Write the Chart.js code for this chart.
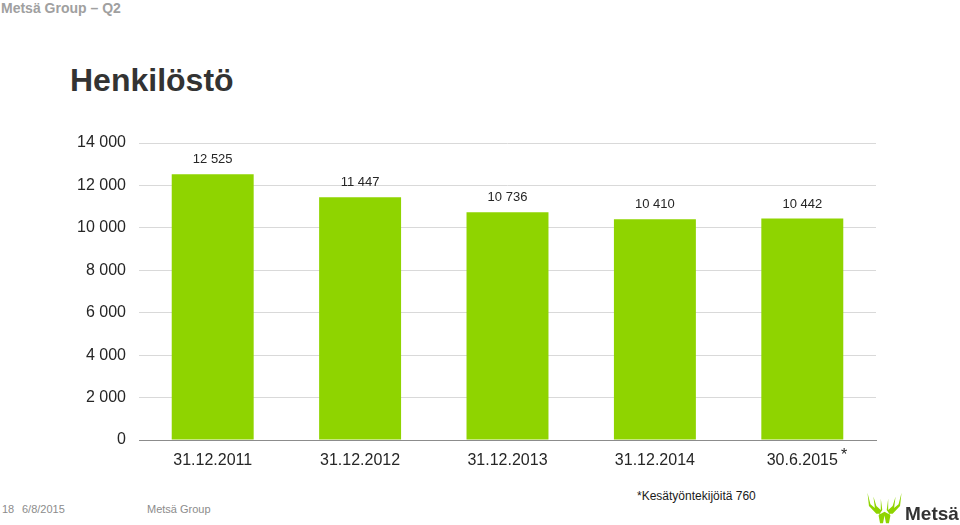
<!DOCTYPE html>
<html lang="fi">
  <head>
    <meta charset="UTF-8" />
    <title>Henkilöstö</title>
    <script src="https://cdn.jsdelivr.net/npm/chart.js"></script>
    <style>
      body {
        margin: 0;
        width: 960px;
        height: 525px;
        position: relative;
        overflow: hidden;
        background: #fff;
        font-family: "Liberation Sans", Arial, sans-serif;
      }
      .abs { position: absolute; white-space: nowrap; }
      .header { left: 1px; top: 0px; font-size: 14px; font-weight: bold; color: #a0a0a0; }
      .title { left: 70px; top: 62px; font-size: 32px; font-weight: bold; color: #333; }
      .foot { font-size: 11px; color: #8c8c8c; top: 503px; }
      .note { left: 637px; top: 489px; font-size: 12px; color: #1a1a1a; }
      .star { left: 841px; top: 446px; font-size: 16px; color: #262626; }
      #wrap { position: absolute; left: 0; top: 120px; width: 960px; height: 360px; }
    </style>
  </head>
  <body>
    <div class="abs header">Metsä Group – Q2</div>
    <div class="abs title">Henkilöstö</div>

    <div id="wrap"><canvas id="chart"></canvas></div>

    <div class="abs star">*</div>
    <div class="abs note">*Kesätyöntekijöitä 760</div>
    <div class="abs foot" style="left: 2px">18</div>
    <div class="abs foot" style="left: 22px">6/8/2015</div>
    <div class="abs foot" style="left: 147px">Metsä Group</div>

    <!-- logo -->
    <svg class="abs" style="left: 866px; top: 488px" width="94" height="37">
      <g transform="translate(0,1) scale(0.74,0.95)">
        <path d="M2 4 L6 16 L12 20 L10 8 L14 18 L20 22 L20 10 L22 22 L17 28 L19 36 L23 36 L25 28 L27 36 L31 36 L33 28 L28 22 L30 10 L30 22 L36 18 L40 8 L38 20 L44 16 L48 4 L46 18 L36 26 L30 26 L25 24 L20 26 L14 26 L4 18 Z" fill="#8fd400" />
      </g>
      <text x="39" y="32" font-family="Liberation Sans, Arial" font-weight="bold" font-size="19" fill="#333">Metsä</text>
    </svg>

    <script>
      const categories = ["31.12.2011", "31.12.2012", "31.12.2013", "31.12.2014", "30.6.2015"];
      const employees = [12525, 11447, 10736, 10410, 10442];
      const yTicks = [0, 2000, 4000, 6000, 8000, 10000, 12000, 14000];

      const fmt = (v) => String(v).replace(/\B(?=(\d{3})+(?!\d))/g, " ");

      // value labels above the bars
      const barLabels = {
        id: "barLabels",
        afterDatasetsDraw(chart) {
          const ctx = chart.ctx;
          const meta = chart.getDatasetMeta(0);
          ctx.save();
          ctx.font = "13px 'Liberation Sans', Arial, sans-serif";
          ctx.fillStyle = "#262626";
          ctx.textAlign = "center";
          ctx.textBaseline = "bottom";
          meta.data.forEach((bar, i) => {
            ctx.fillText(fmt(employees[i]), bar.x, bar.y - 8);
          });
          ctx.restore();
        },
      };

      new Chart(document.getElementById("chart"), {
        type: "bar",
        data: {
          labels: categories,
          datasets: [
            {
              data: employees,
              backgroundColor: "#8fd400",
              categoryPercentage: 1,
              barPercentage: 0.556,
            },
          ],
        },
        options: {
          responsive: true,
          maintainAspectRatio: false,
          animation: false,
          layout: { padding: { top: 23, right: 84, left: 0, bottom: 0 } },
          plugins: { legend: { display: false }, tooltip: { enabled: false } },
          scales: {
            x: {
              grid: { display: false, drawTicks: false },
              border: { color: "#8c8c8c", width: 1 },
              ticks: {
                color: "#262626",
                font: { family: "'Liberation Sans', Arial", size: 16 },
                padding: 11,
                maxRotation: 0,
              },
              afterFit(scale) { scale.height = 40; },
            },
            y: {
              min: 0,
              max: 14000,
              afterBuildTicks(scale) {
                scale.ticks = yTicks.map((v) => ({ value: v }));
              },
              grid: { color: "#d9d9d9", drawTicks: false },
              border: { display: false },
              ticks: {
                color: "#262626",
                font: { family: "'Liberation Sans', Arial", size: 16 },
                padding: 13,
                callback: (v) => fmt(v),
              },
              afterFit(scale) { scale.width = 139; },
            },
          },
        },
        plugins: [barLabels],
      });
    </script>
  </body>
</html>
